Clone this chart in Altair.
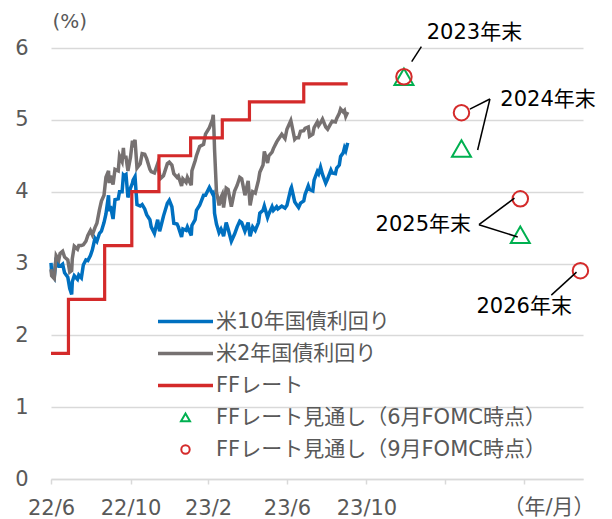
import altair as alt
import pandas as pd

# ---------------- data ----------------
yield_dates = [
    "2022-06-30", "2022-07-01", "2022-07-05", "2022-07-08", "2022-07-12", "2022-07-14", "2022-07-18",
    "2022-07-21", "2022-07-26", "2022-07-29", "2022-08-01", "2022-08-02", "2022-08-05", "2022-08-10",
    "2022-08-12", "2022-08-16", "2022-08-19", "2022-08-23", "2022-08-26", "2022-08-30", "2022-09-02",
    "2022-09-06", "2022-09-09", "2022-09-13", "2022-09-16", "2022-09-20", "2022-09-23", "2022-09-27",
    "2022-09-28", "2022-09-30", "2022-10-04", "2022-10-07", "2022-10-12", "2022-10-14", "2022-10-18",
    "2022-10-20", "2022-10-21", "2022-10-24", "2022-10-27", "2022-10-31", "2022-11-03", "2022-11-04",
    "2022-11-07", "2022-11-10", "2022-11-15", "2022-11-18", "2022-11-22", "2022-11-25", "2022-11-30",
    "2022-12-02", "2022-12-07", "2022-12-12", "2022-12-15", "2022-12-16", "2022-12-21", "2022-12-27",
    "2022-12-30", "2023-01-03", "2023-01-06", "2023-01-11", "2023-01-13", "2023-01-18", "2023-01-20",
    "2023-01-25", "2023-01-27", "2023-02-02", "2023-02-03", "2023-02-08", "2023-02-10", "2023-02-15",
    "2023-02-21", "2023-02-24", "2023-03-02", "2023-03-07", "2023-03-08", "2023-03-09", "2023-03-10",
    "2023-03-13", "2023-03-15", "2023-03-17", "2023-03-20", "2023-03-22", "2023-03-24", "2023-03-28",
    "2023-03-31", "2023-04-05", "2023-04-10", "2023-04-14", "2023-04-18", "2023-04-21", "2023-04-26",
    "2023-05-01", "2023-05-04", "2023-05-08", "2023-05-12", "2023-05-17", "2023-05-19", "2023-05-24",
    "2023-05-26", "2023-05-31", "2023-06-02", "2023-06-07", "2023-06-09", "2023-06-14", "2023-06-16",
    "2023-06-22", "2023-06-27", "2023-06-30", "2023-07-06", "2023-07-07", "2023-07-12", "2023-07-14",
    "2023-07-18", "2023-07-21", "2023-07-26", "2023-07-28", "2023-08-02", "2023-08-04", "2023-08-09",
    "2023-08-11", "2023-08-16", "2023-08-18", "2023-08-21", "2023-08-24", "2023-08-29", "2023-09-01",
    "2023-09-06", "2023-09-08", "2023-09-13", "2023-09-15", "2023-09-19", "2023-09-21", "2023-09-25",
    "2023-09-27", "2023-09-29", "2023-10-02",
]
us10y = [
    3.01, 2.88, 2.81, 3.08, 2.96, 2.96, 2.99,
    2.87, 2.81, 2.65, 2.57, 2.75, 2.83, 2.78,
    2.84, 2.80, 2.98, 3.05, 3.04, 3.11, 3.19,
    3.35, 3.31, 3.42, 3.45, 3.57, 3.69, 3.95,
    3.73, 3.80, 3.62, 3.89, 3.90, 4.00, 4.00,
    4.23, 4.22, 4.24, 3.92, 4.05, 4.12, 4.16,
    4.21, 3.82, 3.80, 3.82, 3.76, 3.68, 3.61,
    3.51, 3.42, 3.61, 3.45, 3.48, 3.66, 3.84,
    3.88, 3.79, 3.56, 3.55, 3.51, 3.37, 3.48,
    3.46, 3.51, 3.39, 3.53, 3.61, 3.74, 3.81,
    3.95, 3.95, 4.06, 3.97, 3.98, 3.93, 3.70,
    3.55, 3.49, 3.43, 3.48, 3.44, 3.38, 3.57,
    3.48, 3.31, 3.41, 3.51, 3.59, 3.57, 3.45,
    3.57, 3.38, 3.51, 3.46, 3.57, 3.70, 3.74,
    3.80, 3.64, 3.69, 3.79, 3.74, 3.79, 3.76,
    3.80, 3.77, 3.81, 4.04, 4.06, 3.86, 3.83,
    3.78, 3.84, 3.87, 3.96, 4.08, 4.03, 4.01,
    4.16, 4.28, 4.25, 4.34, 4.24, 4.12, 4.18,
    4.30, 4.26, 4.25, 4.33, 4.37, 4.49, 4.54,
    4.61, 4.57, 4.68,
]
us2y = [
    2.92, 2.83, 2.79, 3.11, 3.05, 3.14, 3.17,
    3.09, 3.05, 2.88, 2.90, 3.07, 3.24, 3.20,
    3.25, 3.25, 3.26, 3.31, 3.39, 3.46, 3.40,
    3.50, 3.56, 3.75, 3.87, 3.95, 4.20, 4.29,
    4.12, 4.22, 4.10, 4.31, 4.29, 4.50, 4.42,
    4.61, 4.48, 4.48, 4.29, 4.48, 4.71, 4.66,
    4.72, 4.33, 4.39, 4.53, 4.52, 4.46, 4.31,
    4.28, 4.26, 4.39, 4.24, 4.18, 4.22, 4.39,
    4.41, 4.37, 4.25, 4.20, 4.22, 4.08, 4.18,
    4.13, 4.20, 4.09, 4.29, 4.43, 4.50, 4.63,
    4.66, 4.80, 4.89, 5.01, 5.07, 4.87, 4.59,
    3.99, 3.91, 3.81, 3.92, 3.96, 3.78, 4.05,
    4.03, 3.79, 4.01, 4.09, 4.20, 4.18, 3.95,
    4.15, 3.81, 4.00, 3.98, 4.16, 4.27, 4.37,
    4.56, 4.40, 4.50, 4.55, 4.60, 4.69, 4.72,
    4.80, 4.74, 4.87, 4.99, 4.95, 4.73, 4.75,
    4.75, 4.84, 4.85, 4.88, 4.90, 4.77, 4.80,
    4.89, 4.97, 4.92, 4.96, 5.01, 4.90, 4.87,
    4.95, 4.98, 4.97, 5.02, 5.09, 5.15, 5.11,
    5.13, 5.05, 5.11,
]

ff_dates = ["2022-06-30", "2022-07-27", "2022-09-21", "2022-11-02", "2022-12-14",
            "2023-02-01", "2023-03-22", "2023-05-03", "2023-07-26", "2023-10-02"]
ff_rate = [1.75, 2.50, 3.25, 4.00, 4.50, 4.75, 5.00, 5.25, 5.50, 5.50]

# FOMC projections (year-end)
proj_dates = ["2023-12-28", "2024-03-26", "2024-06-25"]
proj_jun = [5.6, 4.6, 3.4]
proj_sep_dates = ["2023-12-28", "2024-03-26", "2024-06-25", "2024-09-26"]
proj_sep = [5.6, 5.1, 3.9, 2.9]

# annotations
ann_text = ["2023年末", "2024年末", "2025年末", "2026年末"]
ann_dates = ["2024-04-15", "2024-08-07", "2024-01-27", "2024-07-01"]
ann_vals = [6.21, 5.27, 3.53, 2.40]

lead_d1 = ["2024-01-09", "2024-04-08", "2024-05-09", "2024-04-22", "2024-04-22", "2024-09-20"]
lead_v1 = [5.81, 5.15, 5.29, 3.54, 3.54, 2.88]
lead_d2 = ["2024-01-24", "2024-05-09", "2024-04-20", "2024-06-16", "2024-06-21", "2024-08-12"]
lead_v2 = [6.02, 5.29, 4.58, 3.91, 3.37, 2.56]

# axis ticks
tick_dates = ["2022-06-30", "2022-10-31", "2023-02-28", "2023-06-30", "2023-10-31", "2024-02-29", "2024-06-30"]
tick_labels = ["22/6", "22/10", "23/2", "23/6", "23/10", "", ""]
y_ticks = [0, 1, 2, 3, 4, 5, 6]

legend_labels = ["米10年国債利回り", "米2年国債利回り", "FFレート",
                 "FFレート見通し（6月FOMC時点）", "FFレート見通し（9月FOMC時点）"]

# ---------------- style ----------------
BLUE = "#0070C0"
GRAY = "#767171"
RED = "#D42A2A"
GREEN = "#00B050"
TXT = "#595959"
GRID = "#D9D9D9"
FONT = "DejaVu Sans, Noto Sans CJK JP"

LINE_PATH = "M-5.5,0L5.5,0"
TRI_PATH = "M0,-0.8L0.9,0.75L-0.9,0.75Z"
CIRC_PATH = "M-0.84,0A0.84,0.84,0,1,1,0.84,0A0.84,0.84,0,1,1,-0.84,0Z"


def dt(s):
    y, m, d = (int(v) for v in s.split("-"))
    return alt.DateTime(year=y, month=m, date=d)


yields = pd.DataFrame({
    "date": pd.to_datetime(yield_dates),
    "y10": us10y,
    "y2": us2y,
})
ff = pd.DataFrame({"date": pd.to_datetime(ff_dates), "rate": ff_rate})
pj = pd.DataFrame({"date": pd.to_datetime(proj_dates), "v": proj_jun})
ps = pd.DataFrame({"date": pd.to_datetime(proj_sep_dates), "v": proj_sep})
ann = pd.DataFrame({"date": pd.to_datetime(ann_dates), "v": ann_vals, "t": ann_text})
lead = pd.DataFrame({
    "d1": pd.to_datetime(lead_d1), "v1": lead_v1,
    "d2": pd.to_datetime(lead_d2), "v2": lead_v2,
})
legend_df = pd.DataFrame({"series": pd.Series([], dtype="object")})

label_expr = ""
for d, lab in zip(tick_dates, tick_labels):
    label_expr += f"timeFormat(datum.value, '%Y-%m-%d') == '{d}' ? '{lab}' : "
label_expr += "''"

x_scale = alt.Scale(domain=[dt("2022-06-30"), dt("2024-09-30")], nice=False)
y_scale = alt.Scale(domain=[0, 6], nice=False)

x_axis = alt.Axis(
    values=[dt(d) for d in tick_dates], labelExpr=label_expr, grid=False,
    domainColor=GRID, domainWidth=1.5, tickColor=GRID, tickWidth=1.5, tickSize=5,
    labelFont=FONT, labelFontSize=21, labelColor=TXT, labelPadding=13,
    labelFlush=False, labelOverlap=False,
    title="（年/月）", titleFont=FONT, titleFontSize=21, titleColor=TXT,
    titleFontWeight="normal", titleAlign="right", titleBaseline="middle",
    titleX=543, titleY=28, titleAngle=0,
)
y_axis = alt.Axis(
    values=y_ticks, grid=True, gridColor=GRID, gridWidth=1.3, domain=False, ticks=False,
    labelFont=FONT, labelFontSize=21, labelColor=TXT, labelPadding=23,
    title="(%)", titleFont=FONT, titleFontSize=20, titleColor=TXT, titleFontWeight="normal",
    titleAngle=0, titleAlign="left", titleBaseline="middle", titleX=1, titleY=-27,
)

X = lambda f: alt.X(f, type="temporal", scale=x_scale, axis=x_axis)
Y = lambda f: alt.Y(f, type="quantitative", scale=y_scale, axis=y_axis)

line10 = alt.Chart(yields).mark_line(color=BLUE, strokeWidth=3.5).encode(x=X("date"), y=Y("y10"))
line2 = alt.Chart(yields).mark_line(color=GRAY, strokeWidth=3.5).encode(x=X("date"), y=Y("y2"))
ffline = alt.Chart(ff).mark_line(color=RED, strokeWidth=3.2, interpolate="step-after").encode(
    x=X("date"), y=Y("rate"))

tri = alt.Chart(pj).mark_point(shape="triangle-up", size=361, color=GREEN, filled=False,
                               strokeWidth=2, opacity=1).encode(x=X("date"), y=Y("v"))
circ = alt.Chart(ps).mark_point(shape="circle", size=240, color=RED, filled=False,
                                strokeWidth=2, opacity=1).encode(x=X("date"), y=Y("v"))

leaders = alt.Chart(lead).mark_rule(color="#000000", strokeWidth=1.5).encode(
    x=X("d1"), y=Y("v1"), x2="d2", y2="v2")
labels = alt.Chart(ann).mark_text(font=FONT, fontSize=21, color="#000000",
                                  align="center", baseline="middle").encode(
    x=X("date"), y=Y("v"), text="t:N")

LEG = dict(title=None, orient="none", legendX=124, legendY=263, labelLimit=500)
legend_layer = alt.Chart(legend_df).mark_point(filled=False, opacity=1).encode(
    color=alt.Color("series:N", scale=alt.Scale(domain=legend_labels,
                                                range=[BLUE, GRAY, RED, GREEN, RED]),
                    legend=alt.Legend(**LEG)),
    shape=alt.Shape("series:N", scale=alt.Scale(domain=legend_labels,
                                                range=[LINE_PATH, LINE_PATH, LINE_PATH, TRI_PATH, CIRC_PATH]),
                    legend=alt.Legend(**LEG)),
    strokeWidth=alt.StrokeWidth("series:N", scale=alt.Scale(type="ordinal", domain=legend_labels,
                                                            range=[3.5, 3.5, 3.5, 2, 2]),
                                legend=alt.Legend(**LEG)),
)

chart = alt.layer(line10, line2, ffline, tri, circ, leaders, labels, legend_layer).properties(
    width=532, height=431,
    autosize=alt.AutoSizeParams(type="none"),
    padding={"left": 43, "top": 40, "right": 21, "bottom": 42},
    background="white",
).configure_view(strokeWidth=0).configure_legend(
    symbolSize=100, labelFont=FONT, labelFontSize=21, labelColor=TXT,
    labelOffset=20, rowPadding=10, symbolFillColor="transparent", labelLimit=500,
)

chart.save("out.html", embed_options={"renderer": "svg", "actions": False})
